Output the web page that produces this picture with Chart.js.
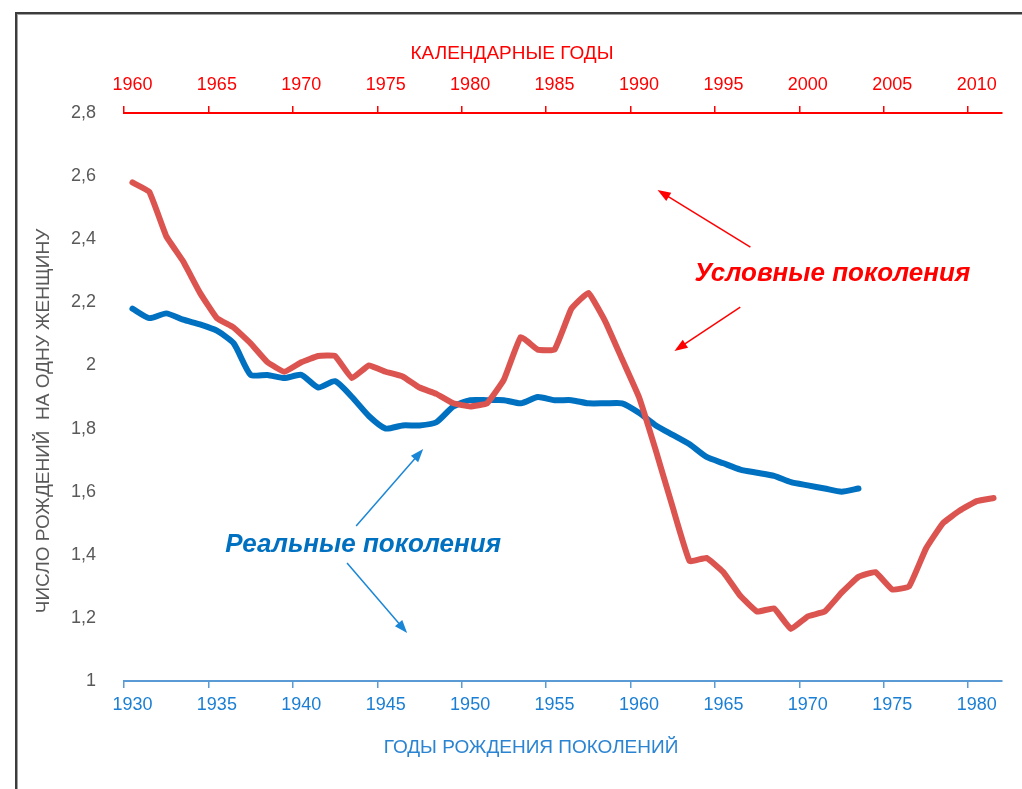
<!DOCTYPE html>
<html lang="ru">
<head>
<meta charset="utf-8">
<title>Рождаемость: реальные и условные поколения</title>
<script src="https://cdn.jsdelivr.net/npm/chart.js@4"></script>
<style>
  html, body { margin: 0; padding: 0; background: #fff; overflow: hidden; }
  .frame {
    position: absolute; left: 15px; top: 12px; width: 1100px; height: 900px;
    border: 2px solid #3c3c3c; box-shadow: inset 1px 1px 0 #a0a0a0;
  }
  #wrap { position: absolute; left: 0; top: 0; width: 1022px; height: 789px; }
  canvas { display: block; }
</style>
</head>
<body>
<div class="frame"></div>
<div id="wrap"><canvas id="tfrChart" width="1022" height="789"></canvas></div>
<script>
// нижняя ось: годы рождения поколений
const birthYears = [
  1930, 1931, 1932, 1933, 1934, 1935, 1936, 1937, 1938, 1939,
  1940, 1941, 1942, 1943, 1944, 1945, 1946, 1947, 1948, 1949,
  1950, 1951, 1952, 1953, 1954, 1955, 1956, 1957, 1958, 1959,
  1960, 1961, 1962, 1963, 1964, 1965, 1966, 1967, 1968, 1969,
  1970, 1971, 1972, 1973, 1974, 1975, 1976, 1977, 1978, 1979,
  1980, 1981
];
// верхняя ось: календарные годы
const calendarYears = [
  1960, 1961, 1962, 1963, 1964, 1965, 1966, 1967, 1968, 1969,
  1970, 1971, 1972, 1973, 1974, 1975, 1976, 1977, 1978, 1979,
  1980, 1981, 1982, 1983, 1984, 1985, 1986, 1987, 1988, 1989,
  1990, 1991, 1992, 1993, 1994, 1995, 1996, 1997, 1998, 1999,
  2000, 2001, 2002, 2003, 2004, 2005, 2006, 2007, 2008, 2009,
  2010, 2011
];
// реальные поколения (1930-1973 г.р.)
const realTfr = [
  2.18, 2.15, 2.165, 2.145, 2.13, 2.11, 2.07, 1.97, 1.97, 1.96,
  1.97, 1.93, 1.95, 1.90, 1.84, 1.80, 1.81, 1.81, 1.82, 1.87,
  1.89, 1.89, 1.89, 1.88, 1.90, 1.89, 1.89, 1.88, 1.88, 1.88,
  1.85, 1.81, 1.78, 1.75, 1.71, 1.69, 1.67, 1.66, 1.65, 1.63,
  1.62, 1.61, 1.60, 1.61
];
// условные поколения (1960-2011)
const conditionalTfr = [
  2.58, 2.55, 2.41, 2.33, 2.23, 2.15, 2.12, 2.07, 2.01, 1.98,
  2.01, 2.03, 2.03, 1.96, 2.00, 1.98, 1.965, 1.93, 1.91, 1.88,
  1.87, 1.88, 1.955, 2.09, 2.05, 2.05, 2.18, 2.23, 2.14, 2.02,
  1.90, 1.73, 1.55, 1.38, 1.39, 1.345, 1.27, 1.22, 1.23, 1.165,
  1.205, 1.22, 1.28, 1.33, 1.345, 1.29, 1.30, 1.42, 1.50, 1.54,
  1.57, 1.58
];

const RED = "#ff0000";
const RED_LINE = "#dc5450";
const BLUE = "#0070c0";
const FONT = "'Liberation Sans', Arial, sans-serif";

// подписи и стрелки (в единицах нижней оси / оси Y)
const notes = [
  { text: "Условные поколения", at: [1971.45, 2.29], color: RED },
  { text: "Реальные поколения", at: [1943.66, 1.431], color: BLUE },
];
const arrows = [
  { from: [1966.6, 2.375], to: [1961.1, 2.556], color: RED },
  { from: [1966.0, 2.185], to: [1962.1, 2.046], color: RED },
  { from: [1943.25, 1.491], to: [1947.22, 1.735], color: "#1a86d6" },
  { from: [1942.71, 1.374], to: [1946.27, 1.152], color: "#1a86d6" },
];

const decorations = {
  id: "decorations",
  afterDraw(chart) {
    const { ctx, scales } = chart;
    const px = (yr) => scales.x.getPixelForValue(yr - birthYears[0]);
    const py = (v) => scales.y.getPixelForValue(v);
    ctx.save();

    // заголовки осей
    ctx.textAlign = "center";
    ctx.textBaseline = "middle";
    ctx.font = "19px " + FONT;
    ctx.fillStyle = RED;
    ctx.fillText("КАЛЕНДАРНЫЕ ГОДЫ", 512, 54);
    ctx.fillStyle = "#2a84d2";
    ctx.fillText("ГОДЫ РОЖДЕНИЯ ПОКОЛЕНИЙ", 531, 748);
    ctx.save();
    ctx.translate(44, 421);
    ctx.rotate(-Math.PI / 2);
    ctx.fillStyle = "#595959";
    ctx.fillText("ЧИСЛО РОЖДЕНИЙ  НА ОДНУ ЖЕНЩИНУ", 0, 0);
    ctx.restore();

    // стрелки
    arrows.forEach((a) => {
      const x1 = px(a.from[0]), y1 = py(a.from[1]);
      const x2 = px(a.to[0]), y2 = py(a.to[1]);
      const ang = Math.atan2(y2 - y1, x2 - x1);
      const head = 14;
      ctx.strokeStyle = a.color;
      ctx.fillStyle = a.color;
      ctx.lineWidth = 1.5;
      ctx.beginPath();
      ctx.moveTo(x1, y1);
      ctx.lineTo(x2 - Math.cos(ang) * head * 0.8, y2 - Math.sin(ang) * head * 0.8);
      ctx.stroke();
      ctx.beginPath();
      ctx.moveTo(x2, y2);
      ctx.lineTo(x2 - head * Math.cos(ang - 0.35), y2 - head * Math.sin(ang - 0.35));
      ctx.lineTo(x2 - head * Math.cos(ang + 0.35), y2 - head * Math.sin(ang + 0.35));
      ctx.closePath();
      ctx.fill();
    });

    // надписи
    ctx.font = "italic bold 26px " + FONT;
    notes.forEach((n) => {
      ctx.fillStyle = n.color;
      ctx.fillText(n.text, px(n.at[0]), py(n.at[1]));
    });
    ctx.restore();
  },
};

const everyFifth = (color) => (c) => (c.index % 5 === 0 ? color : "rgba(0,0,0,0)");

new Chart(document.getElementById("tfrChart"), {
  type: "line",
  data: {
    datasets: [
      {
        label: "Условные поколения",
        data: conditionalTfr,
        xAxisID: "x2",
        borderColor: RED_LINE,
        borderWidth: 6,
        tension: 0.1,
      },
      {
        label: "Реальные поколения",
        data: realTfr,
        xAxisID: "x",
        borderColor: BLUE,
        borderWidth: 6,
        tension: 0.2,
      },
    ],
  },
  options: {
    responsive: false,
    animation: false,
    devicePixelRatio: 1,
    layout: { padding: { left: 0, right: 20, top: 0, bottom: 0 } },
    elements: {
      point: { radius: 0, hoverRadius: 0 },
      line: { borderCapStyle: "round", borderJoinStyle: "round", fill: false },
    },
    plugins: { legend: { display: false }, tooltip: { enabled: false } },
    scales: {
      x: {
        type: "category",
        position: "bottom",
        labels: birthYears,
        offset: true,
        afterFit: (s) => { s.height = 108; },
        grid: {
          offset: true,
          drawOnChartArea: false,
          tickLength: 7,
          lineWidth: 1.5,
          color: everyFifth("#5b9bd5"),
          tickColor: everyFifth("#5b9bd5"),
        },
        border: { color: "#5b9bd5", width: 2 },
        ticks: {
          autoSkip: false,
          maxRotation: 0,
          padding: 6,
          color: "#1a7fd4",
          font: { family: FONT, size: 18 },
          callback: function (val, i) {
            return i % 5 === 0 ? String(this.getLabelForValue(val)) : "";
          },
        },
      },
      x2: {
        type: "category",
        position: "top",
        labels: calendarYears,
        offset: true,
        afterFit: (s) => { s.height = 113; },
        grid: {
          offset: true,
          drawOnChartArea: false,
          tickLength: 7,
          lineWidth: 1.5,
          color: everyFifth(RED),
          tickColor: everyFifth(RED),
        },
        border: { color: RED, width: 2 },
        ticks: {
          autoSkip: false,
          maxRotation: 0,
          padding: 10,
          color: RED,
          font: { family: FONT, size: 18 },
          callback: function (val, i) {
            return i % 5 === 0 ? String(this.getLabelForValue(val)) : "";
          },
        },
      },
      y: {
        min: 1,
        max: 2.8,
        afterFit: (s) => { s.width = 124; },
        grid: { display: false },
        border: { display: false },
        ticks: {
          stepSize: 0.2,
          padding: 20,
          color: "#595959",
          font: { family: FONT, size: 18 },
          callback: (v) => String(Math.round(v * 10) / 10).replace(".", ","),
        },
      },
    },
  },
  plugins: [decorations],
});
</script>
</body>
</html>
